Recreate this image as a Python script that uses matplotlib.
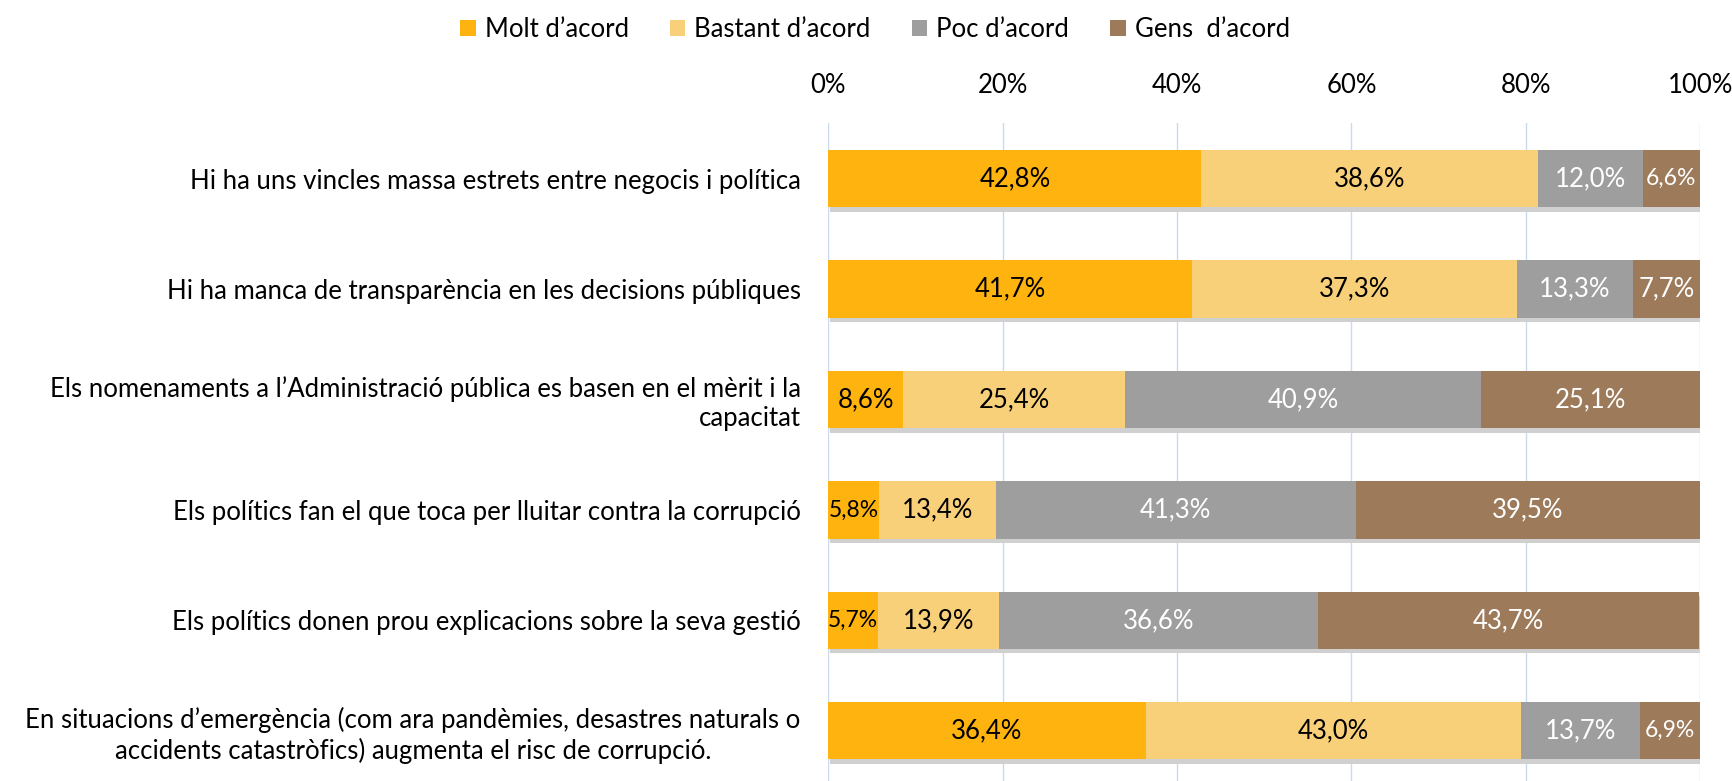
import numpy as np
import matplotlib
matplotlib.use("Agg")
import matplotlib.pyplot as plt

plt.rcParams['font.family'] = ['Lato', 'DejaVu Sans']

# data
categories = [
    "Hi ha uns vincles massa estrets entre negocis i política",
    "Hi ha manca de transparència en les decisions públiques",
    "Els nomenaments a l\u2019Administració pública es basen en el mèrit i la\ncapacitat",
    "Els polítics fan el que toca per lluitar contra la corrupció",
    "Els polítics donen prou explicacions sobre la seva gestió",
    "En situacions d\u2019emergència (com ara pandèmies, desastres naturals o\naccidents catastròfics) augmenta el risc de corrupció.",
]
molt = [42.8, 41.7, 8.6, 5.8, 5.7, 36.4]
bastant = [38.6, 37.3, 25.4, 13.4, 13.9, 43.0]
poc = [12.0, 13.3, 40.9, 41.3, 36.6, 13.7]
gens = [6.6, 7.7, 25.1, 39.5, 43.7, 6.9]
series_names = ["Molt d\u2019acord", "Bastant d\u2019acord", "Poc d\u2019acord", "Gens  d\u2019acord"]
xticks = [0, 20, 40, 60, 80, 100]

colors = ['#FFB30F', '#F9D07A', '#9E9E9E', '#9C7A5A']
label_colors = ['black', 'black', 'white', 'white']
fs = 18.5

fig = plt.figure(figsize=(17.33, 7.81), dpi=100)
ax = fig.add_axes([0.478, 0.0, 0.503, 0.842])

y = np.arange(len(categories))
left = np.zeros(len(categories))
for vals, name, c, tc in zip([molt, bastant, poc, gens], series_names, colors, label_colors):
    vals = np.array(vals)
    # faint shadow under each bar
    ax.barh(y + 0.04, vals, left=left + 0.15, height=0.52, color='#D0D0D0', zorder=2)
    ax.barh(y, vals, left=left, height=0.52, color=c, label=name, zorder=3)
    for yi, l, v in zip(y, left, vals):
        ax.text(l + v / 2, yi, f"{v:.1f}%".replace('.', ','), ha='center', va='center',
                color=tc, fontsize=16.5 if v < 7 else fs, zorder=4)
    left += vals

ax.set_xlim(0, 100)
ax.set_ylim(5.455, -0.5)
ax.set_xticks(xticks)
ax.set_xticklabels([f"{t}%" for t in xticks])
ax.xaxis.tick_top()
ax.tick_params(axis='x', length=0, labelsize=fs, pad=18)
ax.set_yticks(y)
ax.set_yticklabels(categories)
ax.tick_params(axis='y', length=0, labelsize=fs, pad=20)
for i, lab in enumerate(ax.get_yticklabels()):
    lab.set_multialignment('center' if i == 5 else 'right')
ax.grid(axis='x', color='#C9DAEC', linewidth=1, zorder=0)
for s in ax.spines.values():
    s.set_visible(False)

handles, labels = ax.get_legend_handles_labels()
fig.legend(handles[:4], labels[:4], loc='upper center', bbox_to_anchor=(0.505, 1.008), ncol=4,
           frameon=False, fontsize=fs, handlelength=0.6, handleheight=0.6, handletextpad=0.35,
           columnspacing=1.6)

fig.savefig("out.png", dpi=100)
